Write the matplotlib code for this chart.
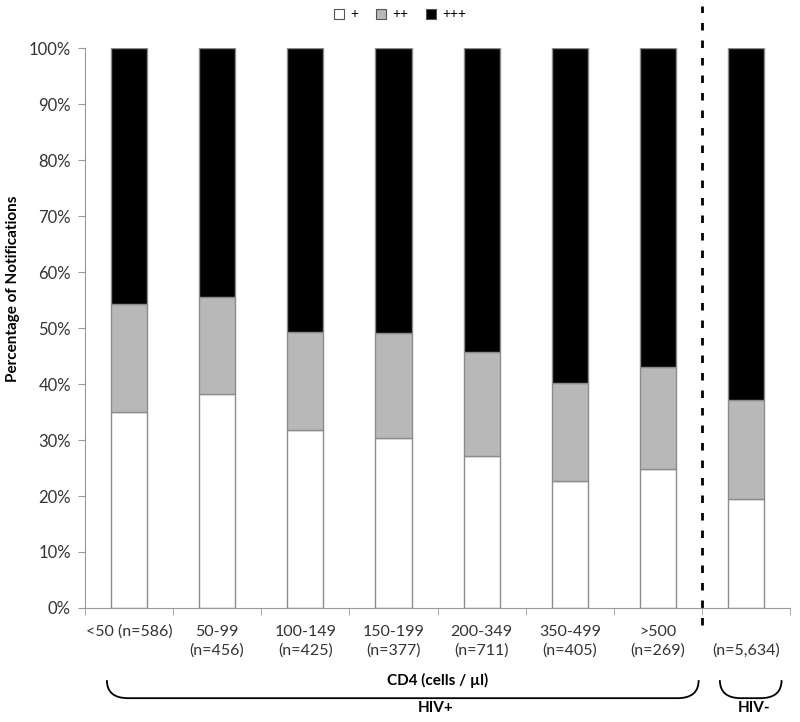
import matplotlib.pyplot as plt
import numpy as np
from matplotlib.patches import Patch, PathPatch
from matplotlib.path import Path
from matplotlib.transforms import blended_transform_factory

plt.rcParams['font.family'] = ['Lato', 'DejaVu Sans']

# data (percent of notifications)
categories = ['<50 (n=586)', '50-99\n(n=456)', '100-149\n(n=425)', '150-199\n(n=377)',
              '200-349\n(n=711)', '350-499\n(n=405)', '>500\n(n=269)', '\n(n=5,634)']
plus1 = [35.1, 38.3, 31.8, 30.4, 27.2, 22.6, 24.8, 19.4]
plus2 = [19.2, 17.3, 17.5, 18.7, 18.5, 17.6, 18.2, 17.8]
plus3 = [100 - a - b for a, b in zip(plus1, plus2)]
series_names = ['+', '++', '+++']
series_colors = ['white', '#b8b8b8', 'black']

fig = plt.figure(figsize=(8, 7.22), dpi=100)
ax = fig.add_axes([0.106, 0.158, 0.882, 0.775])

x = np.arange(len(categories))
width = 0.41
edge = '#8c8c8c'
ax.bar(x, plus1, width, color=series_colors[0], edgecolor=edge, linewidth=1)
ax.bar(x, plus2, width, bottom=plus1, color=series_colors[1], edgecolor=edge, linewidth=1)
ax.bar(x, plus3, width, bottom=np.array(plus1) + np.array(plus2),
       color=series_colors[2], edgecolor=edge, linewidth=1)

ax.set_xlim(-0.5, len(categories) - 0.5)
ax.set_ylim(0, 100)
ax.set_yticks(np.arange(0, 101, 10))
ax.set_yticklabels([f'{v}%' for v in range(0, 101, 10)], fontsize=12, color='#333333')
ax.set_xticks(x)
ax.set_xticklabels(categories, fontsize=11.5, color='#333333', va='top', linespacing=1.45)
ax.tick_params(axis='x', which='major', length=0, pad=12)
ax.set_xticks(np.arange(-0.5, len(categories), 1), minor=True)
ax.tick_params(axis='x', which='minor', length=5, color='#999999', direction='out')
ax.tick_params(axis='y', length=5, color='#999999', direction='out', pad=5)
for s in ['top', 'right']:
    ax.spines[s].set_visible(False)
for s in ['left', 'bottom']:
    ax.spines[s].set_color('#999999')

ax.set_ylabel('Percentage of Notifications', fontsize=11, fontweight='bold')
ax.yaxis.set_label_coords(-0.092, 0.57)
ax.set_xlabel('CD4 (cells / µl)', fontsize=11, fontweight='bold', labelpad=11)

# dashed separator between HIV+ and HIV-
ax.plot([6.5, 6.5], [-3, 107.5], ls=(0, (2.7, 3.6)), color='black', lw=2, clip_on=False)

# braces under the groups
tr = blended_transform_factory(ax.transData, fig.transFigure)


def brace(x0, x1, dx, ytop, ybot):
    verts = [(x0, ytop), (x0, ybot), (x0 + dx, ybot), (x1 - dx, ybot),
             (x1, ybot), (x1, ytop)]
    codes = [Path.MOVETO, Path.CURVE3, Path.CURVE3, Path.LINETO, Path.CURVE3, Path.CURVE3]
    p = PathPatch(Path(verts, codes), fill=False, lw=1.3, color='black',
                  transform=tr, clip_on=False)
    fig.add_artist(p)


brace(-0.25, 6.46, 0.24, 0.058, 0.033)
brace(6.70, 7.40, 0.24, 0.058, 0.033)
fig.text(0.545, 0.019, 'HIV+', fontsize=11, fontweight='bold', ha='center', va='center')
fig.text(0.943, 0.019, 'HIV-', fontsize=11, fontweight='bold', ha='center', va='center')

handles = [Patch(facecolor=c, edgecolor='#555555', linewidth=0.8) for c in series_colors]
fig.legend(handles, series_names, loc='center', bbox_to_anchor=(0.5, 0.98), ncol=3,
           frameon=False, fontsize=10, handlelength=0.75, handleheight=0.75,
           handletextpad=0.4, columnspacing=1.3)

fig.savefig('out.png')
